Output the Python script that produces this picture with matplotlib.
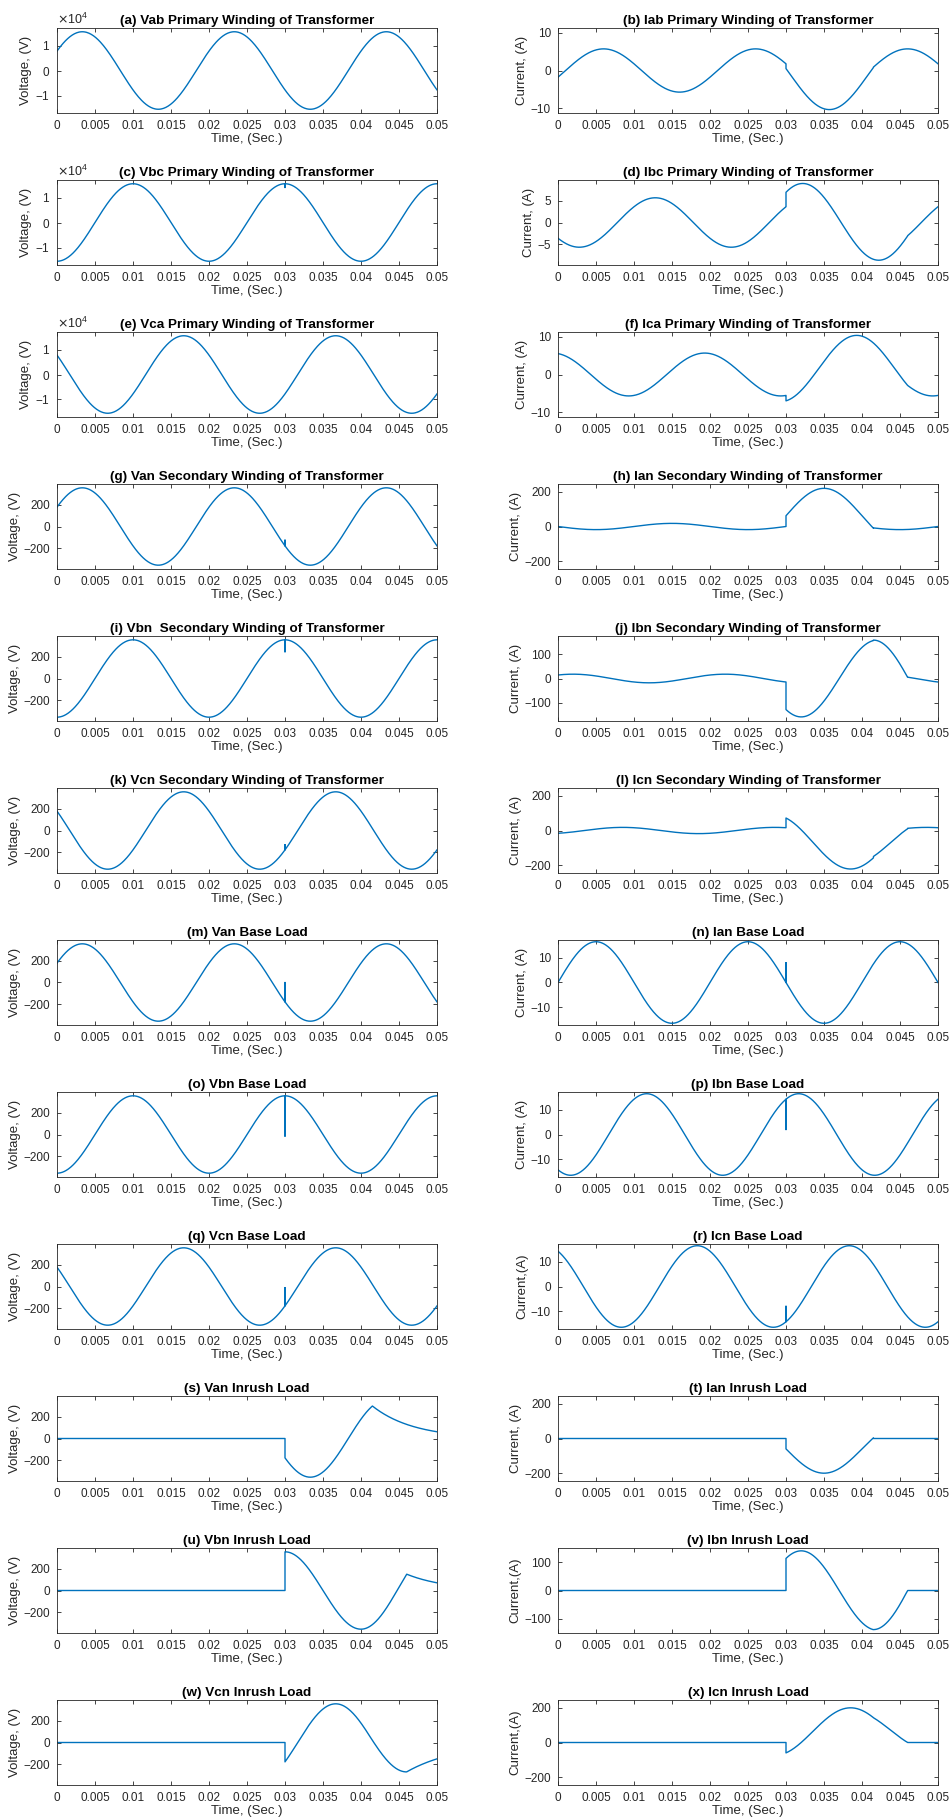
import numpy as np
import matplotlib.pyplot as plt
from matplotlib.ticker import ScalarFormatter

plt.rcParams['font.family'] = ['Liberation Sans', 'DejaVu Sans']

# supply frequency (Hz)
F = 50.0
W = 2 * np.pi * F

TITLES = [
    "(a) Vab Primary Winding of Transformer", "(b) Iab Primary Winding of Transformer",
    "(c) Vbc Primary Winding of Transformer", "(d) Ibc Primary Winding of Transformer",
    "(e) Vca Primary Winding of Transformer", "(f) Ica Primary Winding of Transformer",
    "(g) Van Secondary Winding of Transformer", "(h) Ian Secondary Winding of Transformer",
    "(i) Vbn  Secondary Winding of Transformer", "(j) Ibn Secondary Winding of Transformer",
    "(k) Vcn Secondary Winding of Transformer", "(l) Icn Secondary Winding of Transformer",
    "(m) Van Base Load", "(n) Ian Base Load",
    "(o) Vbn Base Load", "(p) Ibn Base Load",
    "(q) Vcn Base Load", "(r) Icn Base Load",
    "(s) Van Inrush Load", "(t) Ian Inrush Load",
    "(u) Vbn Inrush Load", "(v) Ibn Inrush Load",
    "(w) Vcn Inrush Load", "(x) Icn Inrush Load",
]

YLABELS = [
    "Voltage, (V)", "Current, (A)",
    "Voltage, (V)", "Current, (A)",
    "Voltage, (V)", "Current, (A)",
    "Voltage, (V)", "Current, (A)",
    "Voltage, (V)", "Current, (A)",
    "Voltage, (V)", "Current, (A)",
    "Voltage, (V)", "Current, (A)",
    "Voltage, (V)", "Current, (A)",
    "Voltage, (V)", "Current,(A)",
    "Voltage, (V)", "Current, (A)",
    "Voltage, (V)", "Current,(A)",
    "Voltage, (V)", "Current,(A)",
]

YLIMS = [
    (-1.7e4, 1.7e4), (-11.2, 11.2),
    (-1.7e4, 1.7e4), (-9.8, 9.8),
    (-1.7e4, 1.7e4), (-11.3, 11.3),
    (-390, 390), (-245, 245),
    (-390, 390), (-177, 177),
    (-390, 390), (-245, 245),
    (-390, 390), (-17.2, 17.2),
    (-390, 390), (-17.2, 17.2),
    (-390, 390), (-17.2, 17.2),
    (-390, 390), (-245, 245),
    (-390, 390), (-150, 150),
    (-390, 390), (-245, 245),
]

YTICKS = [
    [-1e4, 0, 1e4], [-10, 0, 10],
    [-1e4, 0, 1e4], [-5, 0, 5],
    [-1e4, 0, 1e4], [-10, 0, 10],
    [-200, 0, 200], [-200, 0, 200],
    [-200, 0, 200], [-100, 0, 100],
    [-200, 0, 200], [-200, 0, 200],
    [-200, 0, 200], [-10, 0, 10],
    [-200, 0, 200], [-10, 0, 10],
    [-200, 0, 200], [-10, 0, 10],
    [-200, 0, 200], [-200, 0, 200],
    [-200, 0, 200], [-100, 0, 100],
    [-200, 0, 200], [-200, 0, 200],
]

XTICKS = [0, 0.005, 0.01, 0.015, 0.02, 0.025, 0.03, 0.035, 0.04, 0.045, 0.05]
XTICKLABELS = ["0", "0.005", "0.01", "0.015", "0.02", "0.025", "0.03",
               "0.035", "0.04", "0.045", "0.05"]

# waveform pieces: (t_start, t_end, kind, amplitude, peak time or tau, offset)
SEGMENTS = [
    # (a) Vab
    [(0, 0.05, "cos", 1.55e4, 0.00333, 0)],
    # (b) Iab
    [(0, 0.03, "cos", 5.7, 0.006, 0), (0.03, 0.0415, "cos", -8.87, 0.0357, -1.43),
     (0.0415, 0.05, "cos", 5.7, 0.006, 0)],
    # (c) Vbc
    [(0, 0.03, "cos", 1.55e4, 0.01, 0), (0.03, 0.05, "cos", 1.55e4, 0.01, 0)],
    # (d) Ibc
    [(0, 0.03, "cos", 5.7, 0.0128, 0), (0.03, 0.046, "cos", 8.85, 0.0322, 0.15),
     (0.046, 0.05, "cos", 5.7, 0.0128, 0)],
    # (e) Vca
    [(0, 0.05, "cos", 1.55e4, 0.01667, 0)],
    # (f) Ica
    [(0, 0.03, "cos", 5.7, -0.0007, 0), (0.03, 0.046, "cos", 8.81, 0.0393, 1.59),
     (0.046, 0.05, "cos", 5.7, -0.0007, 0)],
    # (g) Van secondary
    [(0, 0.03, "cos", 355, 0.00333, 0), (0.03, 0.05, "cos", 355, 0.00333, 0)],
    # (h) Ian secondary
    [(0, 0.03, "cos", 18, 0.015, 0), (0.03, 0.0415, "cos", 158, 0.035, 62),
     (0.0415, 0.05, "cos", 18, 0.015, 0)],
    # (i) Vbn secondary
    [(0, 0.03, "cos", 355, 0.01, 0), (0.03, 0.05, "cos", 355, 0.01, 0)],
    # (j) Ibn secondary
    [(0, 0.03, "cos", 18, 0.002, 0), (0.03, 0.0415, "cos", -160, 0.032, 0),
     (0.0415, 0.046, "cos", 183.6, 0.0415, -23.6), (0.046, 0.05, "cos", 18, 0.002, 0)],
    # (k) Vcn secondary
    [(0, 0.03, "cos", 355, 0.01667, 0), (0.03, 0.05, "cos", 355, 0.01667, 0)],
    # (l) Icn secondary
    [(0, 0.03, "cos", 18, 0.0085, 0), (0.03, 0.0415, "cos", -155.5, 0.0385, -66.5),
     (0.0415, 0.046, "cos", 123, 0.04875, -70), (0.046, 0.05, "cos", 18, 0.0085, 0)],
    # (m) Van base
    [(0, 0.03, "cos", 355, 0.00333, 0), (0.03, 0.05, "cos", 355, 0.00333, 0)],
    # (n) Ian base
    [(0, 0.03, "cos", 16.5, 0.005, 0), (0.03, 0.05, "cos", 16.5, 0.005, 0)],
    # (o) Vbn base
    [(0, 0.03, "cos", 355, 0.01, 0), (0.03, 0.05, "cos", 355, 0.01, 0)],
    # (p) Ibn base
    [(0, 0.03, "cos", 16.5, 0.01167, 0), (0.03, 0.05, "cos", 16.5, 0.01167, 0)],
    # (q) Vcn base
    [(0, 0.03, "cos", 355, 0.01667, 0), (0.03, 0.05, "cos", 355, 0.01667, 0)],
    # (r) Icn base
    [(0, 0.03, "cos", 16.5, 0.01833, 0), (0.03, 0.05, "cos", 16.5, 0.01833, 0)],
    # (s) Van inrush
    [(0, 0.03, "cos", 0, 0, 0), (0.03, 0.0415, "cos", 355, 0.00333, 0),
     (0.0415, 0.05, "exp", 298, 0.0054, 0)],
    # (t) Ian inrush
    [(0, 0.03, "cos", 0, 0, 0), (0.03, 0.0415, "cos", -140, 0.035, -60),
     (0.0415, 0.05, "cos", 0, 0, 0)],
    # (u) Vbn inrush
    [(0, 0.03, "cos", 0, 0, 0), (0.03, 0.04, "cos", 355, 0.01, 0),
     (0.04, 0.046, "cos", -385.8, 0.04, 30.8), (0.046, 0.05, "exp", 150, 0.0053, 0)],
    # (v) Ibn inrush
    [(0, 0.03, "cos", 0, 0, 0), (0.03, 0.0415, "cos", 140, 0.032, 0),
     (0.0415, 0.046, "cos", -163.5, 0.0415, 25.5), (0.046, 0.05, "cos", 0, 0, 0)],
    # (w) Vcn inrush
    [(0, 0.03, "cos", 0, 0, 0), (0.03, 0.0415, "cos", 355, 0.01667, 0),
     (0.0415, 0.046, "cos", -343.6, 0.046, 73.6), (0.046, 0.05, "exp", -270, 0.0068, 0)],
    # (x) Icn inrush
    [(0, 0.03, "cos", 0, 0, 0), (0.03, 0.0415, "cos", 137.5, 0.0385, 62.5),
     (0.0415, 0.046, "cos", -110, 0.04875, 71.5), (0.046, 0.05, "cos", 0, 0, 0)],
]

# switching transient at t = 0.03 s (tip value of the spike), None if absent
SPIKES = [
    None, None,
    1.4e4, None,
    None, None,
    -125, None,
    245, None,
    -130, None,
    0, 8,
    -15, 2,
    -10, -8,
    None, None,
    None, None,
    None, None,
]
T_SWITCH = 0.03


def build(segs, spike):
    ts, ys = [], []
    for t0, t1, kind, amp, p, off in segs:
        t = np.linspace(t0, t1, 500)
        if kind == "cos":
            y = off + amp * np.cos(W * (t - p))
        else:
            y = off + amp * np.exp(-(t - t0) / p)
        if spike is not None and abs(t1 - T_SWITCH) < 1e-9:
            t = np.append(t, t1)
            y = np.append(y, spike)
        ts.append(t)
        ys.append(y)
    return np.concatenate(ts), np.concatenate(ys)


FIG_W, FIG_H = 952, 1818
fig = plt.figure(figsize=(FIG_W / 100, FIG_H / 100), dpi=100)

ink = "#262626"
for i in range(24):
    row, col = divmod(i, 2)
    left = [57, 558][col] / FIG_W
    top = 28 + 152 * row
    ax = fig.add_axes([left, 1 - (top + 85) / FIG_H, 380 / FIG_W, 85 / FIG_H])

    t, y = build(SEGMENTS[i], SPIKES[i])
    ax.plot(t, y, color="#0072BD", lw=1.0)

    ax.set_xlim(0, 0.05)
    ax.set_ylim(*YLIMS[i])
    ax.set_xticks(XTICKS)
    ax.set_xticklabels(XTICKLABELS)
    ax.set_yticks(YTICKS[i])
    if abs(YLIMS[i][1]) > 1000:
        fmt = ScalarFormatter(useMathText=True)
        fmt.set_powerlimits((-3, 3))
        ax.yaxis.set_major_formatter(fmt)
        ax.yaxis.get_offset_text().set_fontsize(9)
        ax.yaxis.get_offset_text().set_color(ink)

    ax.tick_params(direction="in", top=True, right=True, length=3,
                   width=0.6, labelsize=8.5, colors=ink)
    ax.tick_params(axis="x", pad=5)
    ax.tick_params(axis="y", pad=5)
    for sp in ax.spines.values():
        sp.set_linewidth(0.6)
        sp.set_color(ink)

    ax.set_title(TITLES[i], fontsize=9.7, fontweight="bold", pad=3)
    ax.set_xlabel("Time, (Sec.)", fontsize=9.5, color=ink, labelpad=1)
    ax.set_ylabel(YLABELS[i], fontsize=9.5, color=ink, labelpad=2)

fig.savefig("out.png", dpi=100, facecolor="white")
